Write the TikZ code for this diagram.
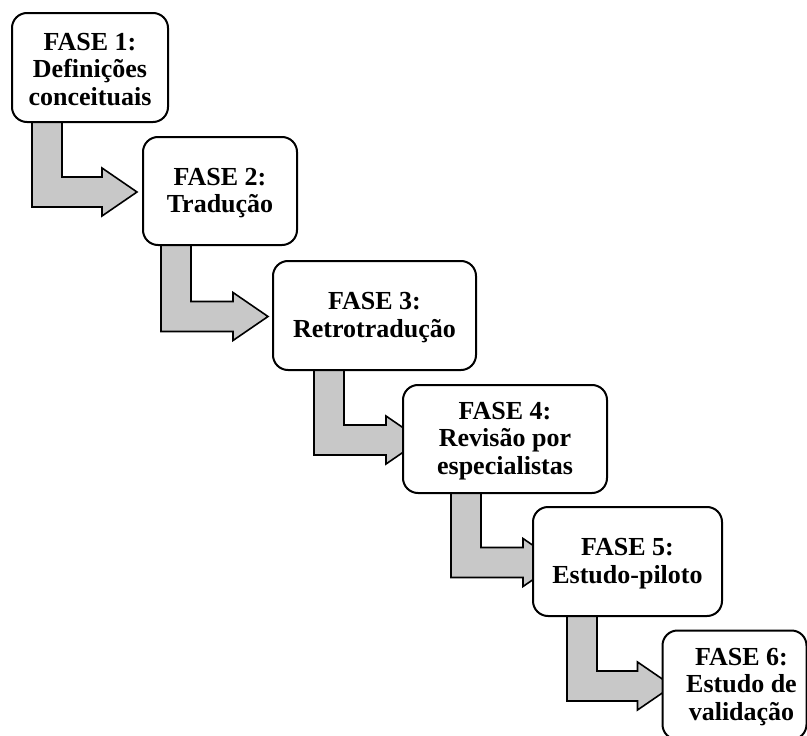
\documentclass[tikz,border=0pt]{standalone}
\usepackage{fontspec}
\setmainfont{Liberation Serif}
\usetikzlibrary{calc}
\definecolor{arrowgray}{RGB}{200,200,200}
\tikzset{
  boxframe/.style={draw=black, line width=2pt, fill=white, rounded corners=15pt},
  phasetext/.style={align=center, inner sep=0pt,
    font=\fontsize{26}{27.5}\selectfont\bfseries},
  arrowshape/.style={draw=black, line width=1.6pt, fill=arrowgray, line join=miter}
}
\newcommand\phasearrow[4]{%
  \draw[arrowshape] let \p1=(#1.south west), \p2=(#2.west) in
    (\x1+#3pt, \y1+2pt) -- (\x1+#3pt+30pt, \y1+2pt) -- (\x1+#3pt+30pt, \y2+14pt)
    -- (\x2-#4pt, \y2+14pt) -- (\x2-#4pt, \y2+23pt) -- (\x2-#4pt+35pt, \y2-1pt)
    -- (\x2-#4pt, \y2-25pt) -- (\x2-#4pt, \y2-16pt) -- (\x1+#3pt, \y2-16pt) -- cycle;}
\begin{document}
\begin{tikzpicture}[x=1pt, y=-1pt]
\useasboundingbox (0,0) rectangle (807,736);
\clip (0,0) rectangle (807,736);
% box geometry (placeholders used for the arrows)
\path
  node[inner sep=0pt, outer sep=0pt, minimum width=156pt, minimum height=109pt] (b1) at (90,67.5) {}
  node[inner sep=0pt, outer sep=0pt, minimum width=154pt, minimum height=108pt] (b2) at (220,191) {}
  node[inner sep=0pt, outer sep=0pt, minimum width=203pt, minimum height=109pt] (b3) at (374.5,315.5) {}
  node[inner sep=0pt, outer sep=0pt, minimum width=204pt, minimum height=108pt] (b4) at (505,439) {}
  node[inner sep=0pt, outer sep=0pt, minimum width=189pt, minimum height=109pt] (b5) at (627.5,561.5) {}
  node[inner sep=0pt, outer sep=0pt, minimum width=144pt, minimum height=109pt] (b6) at (734.5,685) {};
% arrows
\phasearrow{b1}{b2}{20}{41}
\phasearrow{b2}{b3}{18}{40}
\phasearrow{b3}{b4}{41}{17}
\phasearrow{b4}{b5}{48}{10}
\phasearrow{b5}{b6}{34}{25}
% boxes
\foreach \b in {b1,b2,b3,b4,b5,b6}
  \draw[boxframe] (\b.north west) rectangle (\b.south east);
\node[phasetext, yshift=-2pt] (t1) at (b1) {FASE 1:\\Definições\\conceituais};
\node[phasetext, yshift=-2pt] (t2) at (b2) {FASE 2:\\Tradução};
\node[phasetext, yshift=-2pt] (t3) at (b3) {FASE 3:\\Retrotradução};
\node[phasetext, yshift=-2pt] (t4) at (b4) {FASE 4:\\Revisão por\\especialistas};
\node[phasetext, yshift=-2pt] (t5) at (b5) {FASE 5:\\Estudo-piloto};
\node[phasetext, xshift=7pt, yshift=-2pt] (t6) at (b6) {FASE 6:\\Estudo de\\validação};
\end{tikzpicture}
\end{document}
